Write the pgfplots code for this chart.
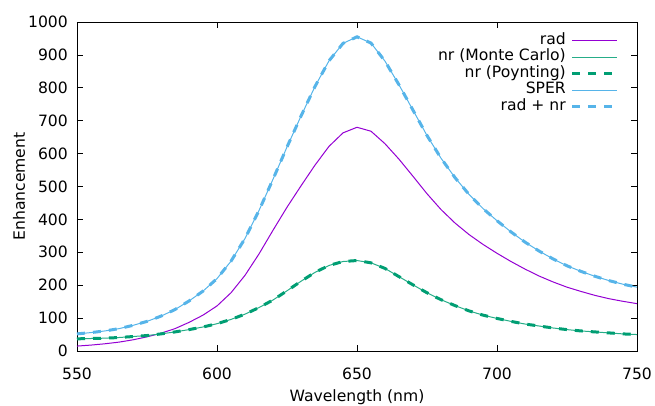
\documentclass[border=0pt]{standalone}
\usepackage{fontspec}
\setmainfont{DejaVu Sans}
\usepackage{pgfplots}
\usepackage{pgfplotstable}
\pgfplotsset{compat=1.18}

\definecolor{gpviolet}{HTML}{9400D3}
\definecolor{gpgreen}{HTML}{009E73}
\definecolor{gpgreenlt}{HTML}{26AD88}
\definecolor{gpblue}{HTML}{56B4E9}
\newcommand\gpfont{\fontsize{15.6}{18.7}\selectfont}

% wavelength (nm), radiative, non-radiative, total (SPER)
\pgfplotstableread{
lambda rad nr sper
550 15 37 52
555 18 38 56
560 22 39 61
565 27 41 68
570 34 44 78
575 43 47 90
580 54 52 106
585 68 58 126
590 87 65 152
595 109 73 182
600 137 83 220
605 177 96 273
610 230 112 342
615 295 132 427
620 367 155 522
625 437 183 620
630 502 212 714
635 565 239 804
640 622 260 882
645 663 272 935
650 680 275 955
655 668 268 936
660 630 251 881
665 583 226 809
670 531 201 732
675 478 177 655
680 430 156 586
685 389 138 527
690 354 122 476
695 324 109 433
700 297 99 396
705 272 90 362
710 249 82 331
715 228 76 304
720 210 70 280
725 194 65 259
730 181 61 242
735 169 58 227
740 159 55 214
745 151 52 203
750 144 50 194
}\enhdata

\begin{document}
\gpfont
\begin{tikzpicture}
\begin{axis}[
    scale only axis,
    width=560pt, height=329pt,
    xmin=550, xmax=750,
    ymin=0, ymax=1000,
    xtick={550,600,...,750},
    ytick={0,100,...,1000},
    tick align=inside,
    major tick length=6pt,
    axis line style={black, line width=0.8pt},
    tick style={black, line width=0.8pt},
    /pgf/number format/assume math mode=true,
    /pgf/number format/1000 sep={},
    tick label style={font=\gpfont},
    xticklabel style={anchor=center, inner sep=0pt, yshift=-23pt},
    yticklabel style={anchor=east, inner sep=0pt, xshift=-9pt},
    label style={font=\gpfont},
    xlabel={Wavelength (nm)},
    ylabel={Enhancement},
    xlabel style={at={(axis description cs:0.5,-0.1398)}, anchor=center},
    ylabel style={at={(axis description cs:-0.1036,0.5)}, anchor=center},
    legend plot pos=right,
    legend cell align=right,
    legend image code/.code={\draw[#1] (0pt,0pt) -- (45pt,0pt);},
    legend style={at={(axis description cs:0.9732,0.975)}, anchor=north east,
        draw=none, fill=none, font=\gpfont, row sep=0pt,
        nodes={inner sep=0pt, text height=12pt, text depth=4.5pt},
        /tikz/every odd column/.append style={column sep=5pt}},
]
\addplot[gpviolet, line width=1pt, forget plot] table[x=lambda, y=rad] {\enhdata};
\addlegendimage{draw=gpviolet, line width=1pt}
\addlegendentry{rad}
\addplot[gpgreenlt, line width=1pt, forget plot] table[x=lambda, y=nr] {\enhdata};
\addlegendimage{draw=gpgreenlt, line width=1.2pt}
\addlegendentry{nr (Monte Carlo)}
\addplot[gpgreen, line width=3pt, dash pattern=on 8pt off 8pt, forget plot] table[x=lambda, y=nr] {\enhdata};
\addlegendimage{draw=gpgreen, line width=3pt, dash pattern=on 8pt off 8pt}
\addlegendentry{nr (Poynting)}
\addplot[gpblue, line width=1pt, forget plot] table[x=lambda, y=sper] {\enhdata};
\addlegendimage{draw=gpblue, line width=1.2pt}
\addlegendentry{SPER}
\addplot[gpblue, line width=3pt, dash pattern=on 8pt off 8pt, forget plot] table[x=lambda, y=sper] {\enhdata};
\addlegendimage{draw=gpblue, line width=3pt, dash pattern=on 8pt off 8pt}
\addlegendentry{rad + nr}
\end{axis}
\pgfresetboundingbox
\useasboundingbox ([xshift=-77pt,yshift=-54pt]current axis.south west) rectangle ([xshift=18pt,yshift=22pt]current axis.north east);
\end{tikzpicture}
\end{document}
